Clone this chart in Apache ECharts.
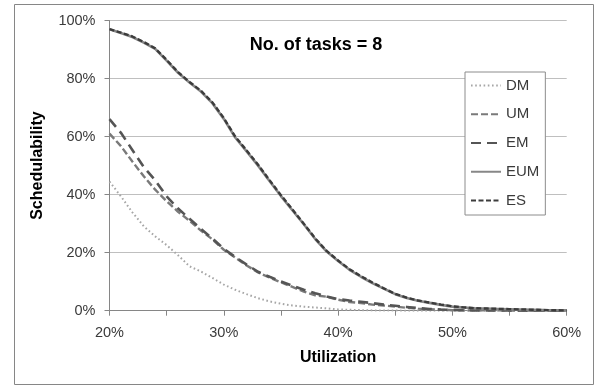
<!DOCTYPE html>
<html><head><meta charset="utf-8">
<script src="https://cdn.jsdelivr.net/npm/echarts@6/dist/echarts.min.js"></script>
<style>html,body{margin:0;padding:0;background:#fff}#c{width:602px;height:389px}</style>
</head><body><div id="c"></div>
<script>
const utilization = [20,21,22,23,24,25,26,27,28,29,30,31,32,33,34,35,36,37,38,39,40,41,42,43,44,45,46,47,48,49,50,51,52,53,54,55,56,57,58,59,60];
const DM  = [44.5,39.4,33.9,29.1,25.6,22.6,19.1,15.3,13.5,11.3,9.0,7.2,5.7,4.3,3.2,2.4,1.8,1.4,1.1,0.8,0.45,0.3,0.2,0.1,0.1,0.05,0,0,0,0,0,0,0,0,0,0,0,0,0,0,0];
const UM  = [61,56.7,51.4,46.3,41.7,37.7,34.1,31,27.6,24.6,21,18.3,15.6,13.2,11.4,9.8,8.2,6.6,5.3,4.8,3.8,3.0,2.6,2.1,1.8,1.4,1.0,0.7,0.5,0.3,0.2,0.1,0.1,0.1,0.1,0.05,0.05,0,0,0,0];
const EM  = [66,61.3,55.4,49.5,44.9,39.4,35.2,31.7,28.2,24.9,21.3,18.5,15.9,13.4,11.7,10.1,8.6,7.2,6.0,4.9,4.0,3.5,3.1,2.6,2.1,1.7,1.3,0.9,0.6,0.4,0.3,0.2,0.1,0.1,0.1,0.05,0.05,0,0,0,0];
const EUM = [97,95.7,94.3,92.4,90.2,86.2,82.0,78.6,75.5,71.5,66.1,59.7,54.9,50.0,44.7,39.5,34.6,29.8,24.7,20.4,17.1,14.1,11.7,9.5,7.6,5.7,4.4,3.4,2.7,2.0,1.4,1.1,0.8,0.7,0.6,0.5,0.4,0.3,0.2,0.15,0.1];
const ES  = [97,95.8,94.5,92.6,90.4,86.4,82.2,78.8,75.8,71.8,66.4,60.0,55.2,50.3,45.0,39.8,34.9,30.0,24.9,20.6,17.3,14.3,11.9,9.7,7.7,5.8,4.5,3.5,2.8,2.1,1.5,1.15,0.85,0.75,0.65,0.55,0.45,0.35,0.25,0.15,0.1];
const xTicks = [20,30,40,50,60];
const yTicks = [0,20,40,60,80,100];
const titleText = 'No. of tasks = 8';

const pairs = v => utilization.map((u,i)=>[u,v[i]]);
const chart = echarts.init(document.getElementById('c'));
const lab = {fontFamily:'Liberation Sans', fontSize:14.5, color:'#3a3a3a'};
chart.setOption({
  backgroundColor:'#fff',
  animation:false,
  title:{text:titleText,left:311,top:31,textAlign:'center',
    textStyle:{fontFamily:'Liberation Sans',fontWeight:'bold',fontSize:18,color:'#000'}},
  legend:{orient:'vertical',left:465,top:72,padding:[6,6,7,5],itemWidth:30,itemHeight:14,itemGap:13.75,
    backgroundColor:'#fff',borderColor:'#8c8c8c',borderWidth:1,
    itemStyle:{color:'rgba(0,0,0,0)',borderWidth:0,opacity:0},
    textStyle:{fontFamily:'Liberation Sans',fontSize:15,color:'#3a3a3a'},
    data:['DM','UM','EM','EUM','ES']},
  grid:{left:109.5,right:35.3,top:20.5,bottom:78.3},
  xAxis:{type:'value',min:20,max:60,interval:5,
    name:'Utilization',nameLocation:'middle',nameGap:39,
    nameTextStyle:{fontFamily:'Liberation Sans',fontWeight:'bold',fontSize:16,color:'#000'},
    axisLine:{lineStyle:{color:'#868686'}},
    axisTick:{show:true,length:5,lineStyle:{color:'#868686'}},
    splitLine:{show:false},
    axisLabel:Object.assign({margin:15,formatter:v=>xTicks.includes(v)?v+'%':''},lab)},
  yAxis:{type:'value',min:0,max:100,interval:20,
    name:'Schedulability',nameLocation:'middle',nameGap:64,nameRotate:90,
    nameTextStyle:{fontFamily:'Liberation Sans',fontWeight:'bold',fontSize:16,color:'#000'},
    axisLine:{show:true,lineStyle:{color:'#868686'}},
    axisTick:{show:true,length:5,lineStyle:{color:'#868686'}},
    splitLine:{lineStyle:{color:'#bfbfbf'}},
    axisLabel:Object.assign({margin:14,formatter:v=>yTicks.includes(v)?v+'%':''},lab)},
  series:[
    {name:'DM',type:'line',data:pairs(DM),symbol:'none',
      lineStyle:{color:'#a6a6a6',width:2,type:[1.6,2.6]},itemStyle:{color:'#a6a6a6'}},
    {name:'UM',type:'line',data:pairs(UM),symbol:'none',
      lineStyle:{color:'#7a7a7a',width:2.4,type:[7,3]},itemStyle:{color:'#7a7a7a'}},
    {name:'EM',type:'line',data:pairs(EM),symbol:'none',
      lineStyle:{color:'#555',width:2.6,type:[10,6]},itemStyle:{color:'#555'}},
    {name:'EUM',type:'line',data:pairs(EUM),symbol:'none',
      lineStyle:{color:'#878787',width:2.6},itemStyle:{color:'#878787'}},
    {name:'ES',type:'line',data:pairs(ES),symbol:'none',
      lineStyle:{color:'#3c3c3c',width:2.4,type:[5,2.5]},itemStyle:{color:'#3c3c3c'}}
  ],
  graphic:[{type:'rect',shape:{x:14.5,y:4.5,width:579,height:380},
    style:{fill:null,stroke:'#868686',lineWidth:1},z:-1,silent:true}]
});
</script></body></html>
